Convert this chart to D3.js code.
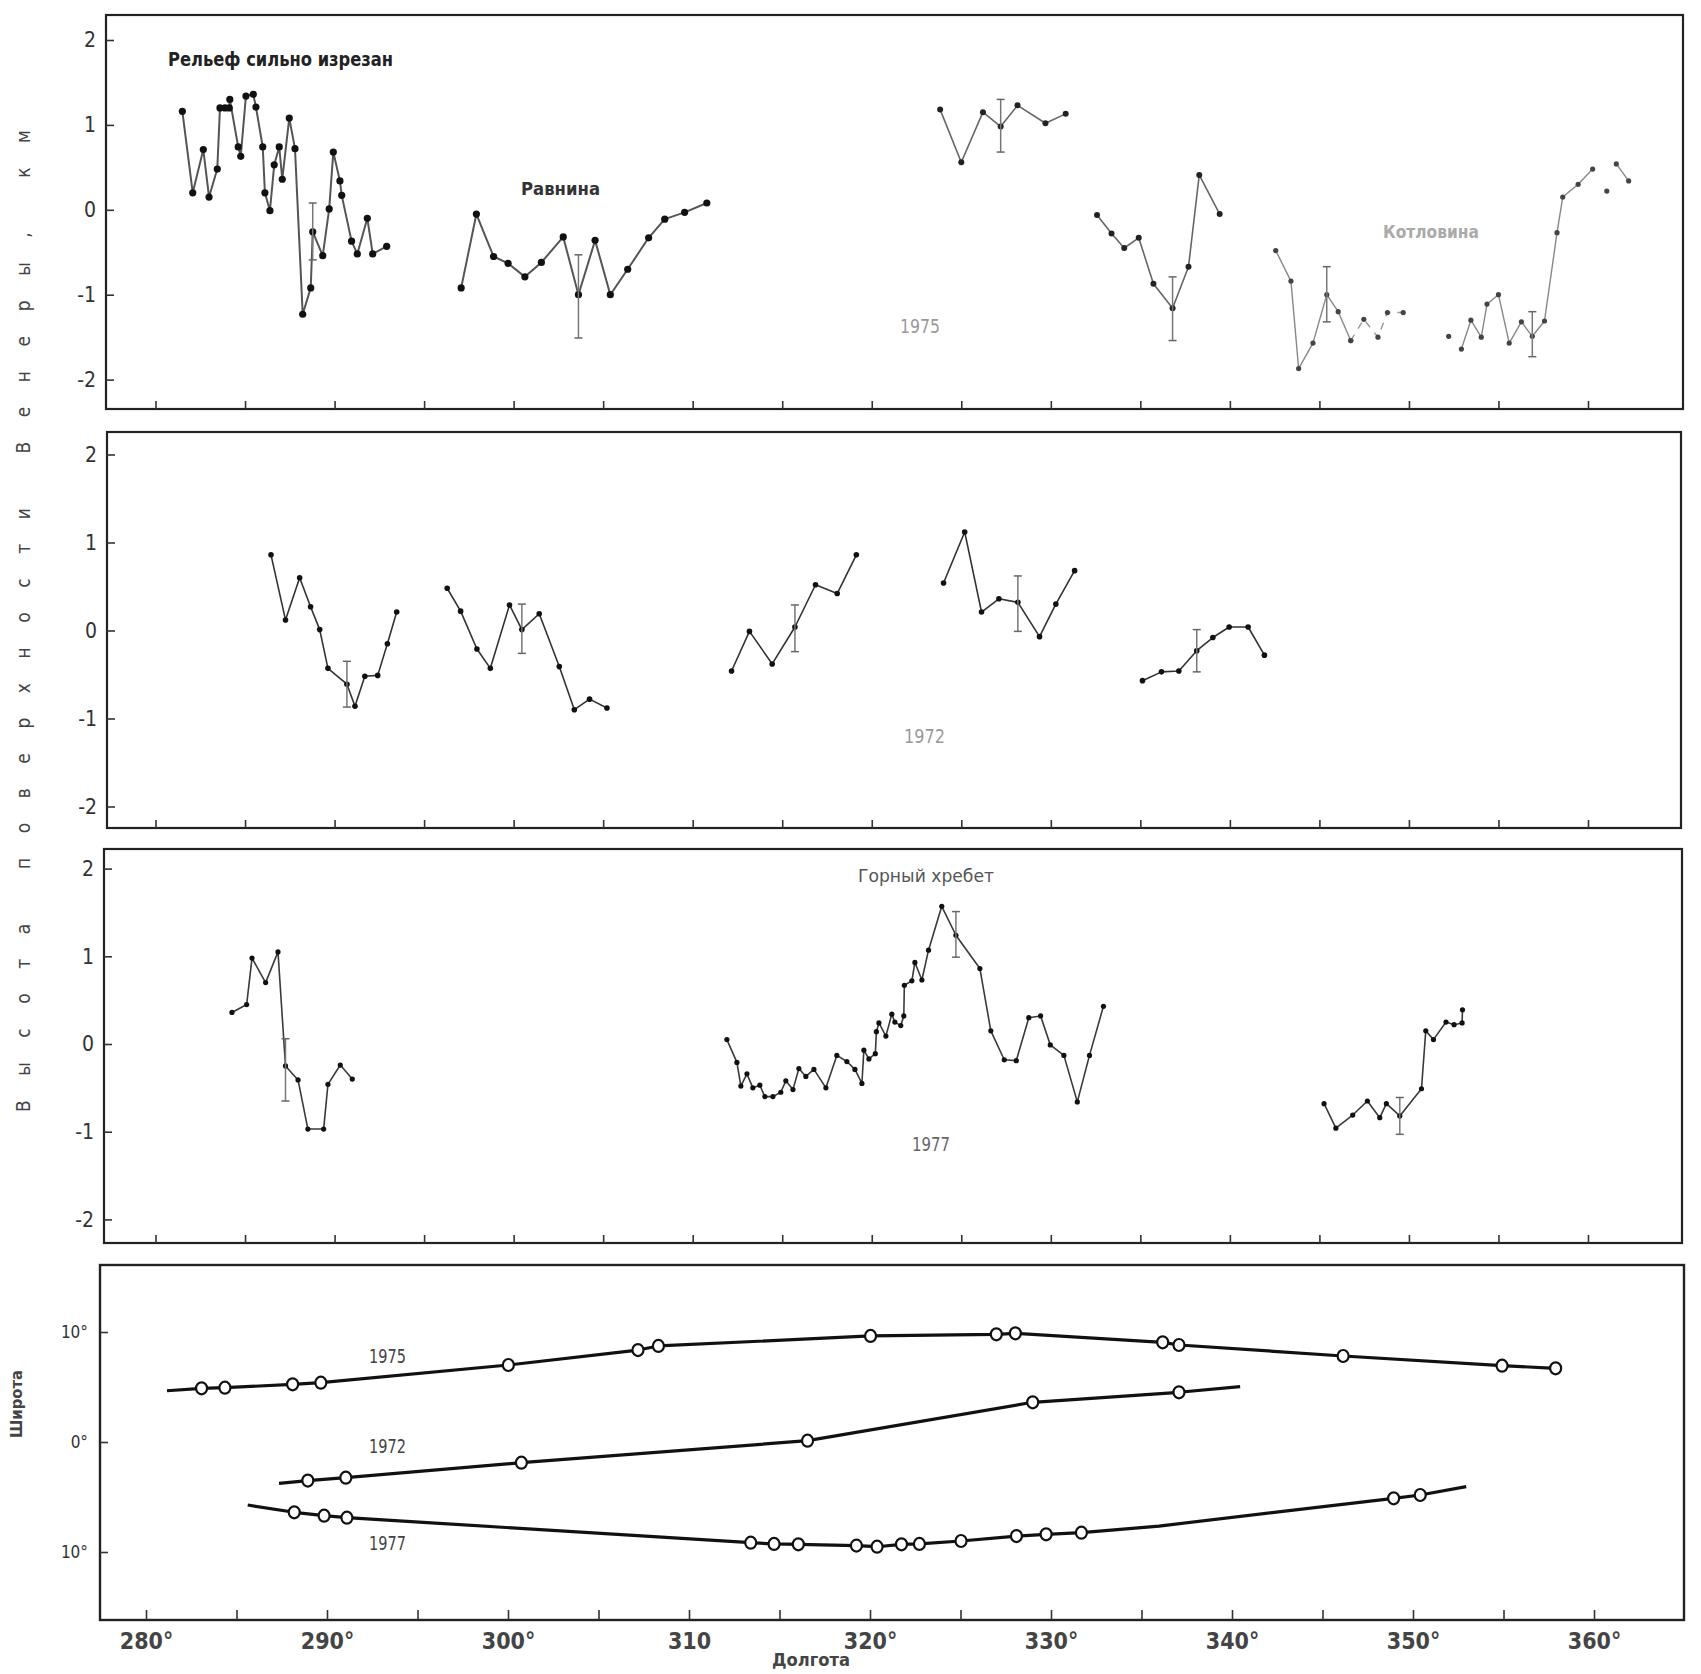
<!DOCTYPE html>
<html>
<head>
<meta charset="utf-8">
<script src="https://cdn.jsdelivr.net/npm/d3@7"></script>
<style>
  body { margin: 0; background: #fff; }
  svg { display: block; }
  text { font-family: "Liberation Sans Narrow", "DejaVu Sans Condensed", "Noto Sans", sans-serif; }
</style>
</head>
<body>
<div id="chart"></div>
<script>
// ------------------------------------------------ data ------------------------------------------------

const lonTicks = d3.range(280, 361, 5);
const lonLabels = ["280°", "290°", "300°", "310", "320°", "330°", "340°", "350°", "360°"];
const heightTicks = [2, 1, 0, -1, -2];
const latTicks = [10, 0, -10];
const latLabels = ["10°", "0°", "10°"];

// 1975 profile: segments of [longitude, height km]
const prof1975 = [
  [[281.50, 1.16], [282.08, 0.20], [282.67, 0.71], [282.99, 0.15], [283.45, 0.48], [283.60, 1.20], [283.88, 1.20],
   [284.12, 1.20], [284.15, 1.30], [284.62, 0.74], [284.76, 0.63], [285.05, 1.34], [285.46, 1.36], [285.61, 1.21],
   [285.99, 0.74], [286.11, 0.20], [286.39, -0.01], [286.63, 0.53], [286.91, 0.74], [287.08, 0.36], [287.47, 1.08],
   [287.79, 0.72], [288.22, -1.23], [288.67, -0.92], [288.78, -0.26], [289.34, -0.54], [289.70, 0.01], [289.93, 0.68],
   [290.30, 0.34], [290.40, 0.17], [290.95, -0.37], [291.27, -0.52], [291.83, -0.10], [292.13, -0.52], [292.91, -0.43]],
  [[297.07, -0.92], [297.92, -0.05], [298.88, -0.55], [299.69, -0.63], [300.63, -0.79], [301.55, -0.62], [302.77, -0.32],
   [303.62, -1.00], [304.55, -0.36], [305.40, -1.00], [306.37, -0.70], [307.54, -0.33], [308.44, -0.11], [309.55, -0.03],
   [310.79, 0.08]],
  [[323.82, 1.18], [325.00, 0.56], [326.21, 1.15], [327.20, 0.98], [328.14, 1.23], [329.70, 1.02], [330.83, 1.13]],
  [[332.58, -0.06], [333.39, -0.28], [334.10, -0.45], [334.91, -0.33], [335.73, -0.87], [336.80, -1.16], [337.69, -0.67],
   [338.29, 0.41], [339.43, -0.05]],
  [[342.56, -0.48], [343.41, -0.84], [343.84, -1.87], [344.64, -1.57], [345.41, -1.00], [346.05, -1.20], [346.75, -1.54]],
  [[346.75, -1.54], [347.48, -1.29], [348.27, -1.50], [348.80, -1.21], [349.68, -1.21]],
  [[352.22, -1.49]],
  [[352.93, -1.64], [353.46, -1.30], [354.04, -1.50], [354.36, -1.11], [355.00, -1.00], [355.60, -1.57], [356.28, -1.32],
   [356.89, -1.49], [357.57, -1.31], [358.27, -0.27], [358.59, 0.15], [359.45, 0.30], [360.26, 0.48]],
  [[361.05, 0.22]],
  [[361.58, 0.54], [362.27, 0.34]]
];
// error bars: [longitude, low, high]
const err1975 = [[288.78, -0.59, 0.08], [303.62, -1.51, -0.53], [327.20, 0.68, 1.30], [336.80, -1.54, -0.79],
  [345.41, -1.32, -0.67], [356.89, -1.73, -1.20]];

// 1972 profile
const prof1972 = [
  [[286.45, 0.86], [287.26, 0.12], [288.05, 0.60], [288.66, 0.27], [289.17, 0.01], [289.63, -0.43], [290.69, -0.61],
   [291.14, -0.86], [291.69, -0.52], [292.41, -0.51], [292.95, -0.15], [293.47, 0.21]],
  [[296.29, 0.48], [297.04, 0.22], [297.95, -0.21], [298.70, -0.43], [299.77, 0.29], [300.46, 0.01], [301.43, 0.19],
   [302.55, -0.41], [303.39, -0.90], [304.24, -0.78], [305.21, -0.88]],
  [[312.17, -0.46], [313.17, -0.01], [314.44, -0.38], [315.71, 0.04], [316.86, 0.52], [318.07, 0.42], [319.14, 0.86]],
  [[324.01, 0.54], [325.19, 1.12], [326.13, 0.21], [327.10, 0.36], [328.16, 0.32], [329.37, -0.07], [330.28, 0.30],
   [331.33, 0.68]],
  [[335.12, -0.57], [336.18, -0.47], [337.15, -0.46], [338.15, -0.23], [339.05, -0.08], [339.96, 0.04], [341.02, 0.04],
   [341.93, -0.28]]
];
const err1972 = [[290.69, -0.87, -0.35], [300.46, -0.26, 0.30], [315.71, -0.24, 0.29], [328.16, -0.01, 0.62],
  [338.15, -0.47, 0.01]];

// 1977 profile
const prof1977 = [
  [[284.27, 0.36], [285.09, 0.45], [285.39, 0.98], [286.15, 0.70], [286.84, 1.05], [287.26, -0.25], [287.96, -0.41],
   [288.51, -0.97], [289.39, -0.97], [289.63, -0.46], [290.32, -0.24], [290.99, -0.40]],
  [[311.91, 0.05], [312.47, -0.21], [312.69, -0.48], [313.03, -0.34], [313.36, -0.50], [313.75, -0.47], [314.03, -0.60],
   [314.48, -0.60], [314.92, -0.55], [315.20, -0.42], [315.60, -0.52], [315.93, -0.28], [316.32, -0.37], [316.77, -0.29],
   [317.44, -0.50], [318.05, -0.13], [318.61, -0.20], [319.06, -0.29], [319.45, -0.45], [319.56, -0.07], [319.84, -0.17],
   [320.20, -0.11], [320.26, 0.14], [320.40, 0.24], [320.79, 0.09], [321.12, 0.34], [321.29, 0.25], [321.62, 0.21],
   [321.79, 0.32], [321.82, 0.67], [322.24, 0.72], [322.41, 0.93], [322.80, 0.73], [323.17, 1.07], [323.91, 1.57],
   [324.70, 1.24], [326.04, 0.86], [326.65, 0.15], [327.40, -0.18], [328.07, -0.19], [328.77, 0.30], [329.43, 0.32],
   [329.97, -0.01], [330.73, -0.13], [331.48, -0.66], [332.16, -0.13], [332.94, 0.43]],
  [[345.26, -0.68], [345.92, -0.96], [346.86, -0.81], [347.68, -0.65], [348.37, -0.84], [348.74, -0.68], [349.49, -0.82],
   [350.70, -0.51], [350.94, 0.15], [351.37, 0.05], [352.07, 0.25], [352.52, 0.22], [352.97, 0.24], [352.99, 0.39]]
];
const err1977 = [[287.26, -0.65, 0.06], [324.70, 0.99, 1.51], [349.49, -1.03, -0.61]];

// ground tracks: [longitude, latitude, measured point 1/0]
const track1975 = [[281.16, 4.66, 0], [283.07, 4.88, 1], [284.36, 4.94, 1], [288.10, 5.24, 1], [289.66, 5.39, 1],
  [300.02, 7.00, 1], [307.18, 8.36, 1], [308.31, 8.73, 1], [320.03, 9.64, 1], [326.98, 9.79, 1], [328.03, 9.88, 1],
  [336.17, 9.06, 1], [337.07, 8.82, 1], [346.14, 7.82, 1], [354.92, 6.94, 1], [357.88, 6.70, 1]];
const track1972 = [[287.35, -3.76, 0], [288.94, -3.51, 1], [291.04, -3.24, 1], [300.74, -1.88, 1], [316.55, 0.12, 1],
  [328.99, 3.61, 1], [337.07, 4.52, 1], [340.45, 5.03, 0]];
const track1977 = [[285.62, -5.73, 0], [288.19, -6.39, 1], [289.84, -6.70, 1], [291.10, -6.88, 1], [313.41, -9.15, 1],
  [314.70, -9.27, 1], [316.04, -9.30, 1], [319.25, -9.42, 1], [320.39, -9.52, 1], [321.74, -9.30, 1], [322.73, -9.27, 1],
  [325.03, -9.00, 1], [328.09, -8.55, 1], [329.73, -8.39, 1], [331.68, -8.24, 1], [335.97, -7.64, 0], [348.93, -5.12, 1],
  [350.40, -4.82, 1], [352.94, -4.06, 0]];

// ------------------------------------------------ chart ------------------------------------------------

const W = 1701, H = 1674;

const svg = d3.select("#chart")
  .append("svg")
  .attr("width", W)
  .attr("height", H);

svg.append("rect").attr("width", W).attr("height", H).attr("fill", "#fff");

// scanned panels are not quite the same width, so the profiles and the track map get their own scale
const xTop = d3.scaleLinear().domain([280, 360]).range([155.5, 1588]);
const xBot = d3.scaleLinear().domain([280, 360]).range([146, 1594]);

const panels = [
  { top: 15, bottom: 409, left: 106, right: 1683, y: d3.scaleLinear().domain([2, -2]).range([40, 379.6]) },
  { top: 432, bottom: 828, left: 107, right: 1681, y: d3.scaleLinear().domain([2, -2]).range([454.5, 806.5]) },
  { top: 849, bottom: 1243, left: 104, right: 1682, y: d3.scaleLinear().domain([2, -2]).range([868.6, 1219.4]) }
];
const yLat = d3.scaleLinear().domain([10, -10]).range([1332, 1552]);

function styleAxis(g, size) {
  g.select(".domain").remove();
  g.selectAll(".tick line").attr("stroke", "#333").attr("stroke-width", 1.6);
  g.selectAll(".tick text")
    .attr("font-family", '"Liberation Sans Narrow", "DejaVu Sans Condensed", sans-serif')
    .attr("font-size", size)
    .attr("fill", "#333");
}

// frames and axes of the three profile panels
panels.forEach(p => {
  svg.append("rect")
    .attr("x", p.left).attr("y", p.top)
    .attr("width", p.right - p.left).attr("height", p.bottom - p.top)
    .attr("fill", "none").attr("stroke", "#222").attr("stroke-width", 2.2);

  // plain hyphen for negatives, as in the print
  const gy = svg.append("g")
    .attr("transform", "translate(" + p.left + ",0)")
    .call(d3.axisLeft(p.y).tickValues(heightTicks).tickSize(-8).tickPadding(10).tickFormat(d => String(d)));
  styleAxis(gy, 21);

  const gx = svg.append("g")
    .attr("transform", "translate(0," + p.bottom + ")")
    .call(d3.axisBottom(xTop).tickValues(lonTicks).tickSize(-8).tickFormat(""));
  styleAxis(gx, 10);
});

// draw one profile with its dots and error bars
function drawProfile(p, segs, errs, look) {
  const line = d3.line().x(d => xTop(d[0])).y(d => p.y(d[1]));
  const g = svg.append("g");

  segs.forEach((s, i) => {
    const st = look(i);
    if (s.length > 1) {
      g.append("path")
        .attr("d", line(s))
        .attr("fill", "none")
        .attr("stroke", st.line)
        .attr("stroke-width", st.w)
        .attr("stroke-dasharray", st.dash || null)
        .attr("stroke-linejoin", "round");
    }
    g.selectAll(null)
      .data(s)
      .join("circle")
      .attr("cx", d => xTop(d[0]))
      .attr("cy", d => p.y(d[1]))
      .attr("r", st.r)
      .attr("fill", st.dot);
  });

  errs.forEach(e => {
    const x = xTop(e[0]);
    g.append("line").attr("x1", x).attr("x2", x).attr("y1", p.y(e[1])).attr("y2", p.y(e[2]))
      .attr("stroke", "#777").attr("stroke-width", 1.5);
    [e[1], e[2]].forEach(v => {
      g.append("line").attr("x1", x - 4).attr("x2", x + 4).attr("y1", p.y(v)).attr("y2", p.y(v))
        .attr("stroke", "#666").attr("stroke-width", 1.5);
    });
  });
}

drawProfile(panels[0], prof1975, err1975, i => {
  if (i < 2) return { line: "#555", w: 2, r: 3.6, dot: "#111" };
  if (i < 4) return { line: "#666", w: 1.6, r: 3, dot: "#222" };
  if (i === 5) return { line: "#999", w: 1.4, r: 2.6, dot: "#444", dash: "7 7" };
  return { line: "#888", w: 1.4, r: 2.6, dot: "#444" };
});
drawProfile(panels[1], prof1972, err1972, () => ({ line: "#333", w: 1.6, r: 2.8, dot: "#111" }));
drawProfile(panels[2], prof1977, err1977, () => ({ line: "#3a3a3a", w: 1.6, r: 2.6, dot: "#111" }));

// --------------------------------------------- ground track panel ---------------------------------------------

const bot = { top: 1265, bottom: 1620, left: 100, right: 1684 };

svg.append("rect")
  .attr("x", bot.left).attr("y", bot.top)
  .attr("width", bot.right - bot.left).attr("height", bot.bottom - bot.top)
  .attr("fill", "none").attr("stroke", "#222").attr("stroke-width", 2.4);

const gLat = svg.append("g")
  .attr("transform", "translate(" + bot.left + ",0)")
  .call(d3.axisLeft(yLat).tickValues(latTicks).tickSize(-8).tickPadding(12)
    .tickFormat((d, i) => latLabels[i]));
styleAxis(gLat, 17);

const gLon = svg.append("g")
  .attr("transform", "translate(0," + bot.bottom + ")")
  .call(d3.axisBottom(xBot).tickValues(lonTicks).tickSize(-10).tickPadding(13)
    .tickFormat(d => d % 10 === 0 ? lonLabels[(d - 280) / 10] : ""));
styleAxis(gLon, 23);
gLon.selectAll(".tick text").attr("font-weight", "bold").attr("fill", "#444");

const trackLine = d3.line().x(d => xBot(d[0])).y(d => yLat(d[1]));
[track1975, track1972, track1977].forEach(t => {
  svg.append("path")
    .attr("d", trackLine(t))
    .attr("fill", "none")
    .attr("stroke", "#111")
    .attr("stroke-width", 3.2)
    .attr("stroke-linejoin", "round");
  svg.selectAll(null)
    .data(t.filter(d => d[2] === 1))
    .join("ellipse")
    .attr("cx", d => xBot(d[0]))
    .attr("cy", d => yLat(d[1]))
    .attr("rx", 5.5)
    .attr("ry", 6)
    .attr("fill", "#fff")
    .attr("stroke", "#111")
    .attr("stroke-width", 2.2);
});

// ------------------------------------------------ texts ------------------------------------------------

function label(txt, x, y, size, len, color, weight) {
  svg.append("text")
    .attr("x", x).attr("y", y)
    .attr("font-size", size)
    .attr("font-weight", weight || "normal")
    .attr("fill", color)
    .attr("textLength", len)
    .attr("lengthAdjust", "spacingAndGlyphs")
    .text(txt);
}

label("Рельеф сильно изрезан", 168, 66, 19, 225, "#222", "bold");
label("Равнина", 521, 195, 18, 79, "#333", "bold");
label("1975", 900, 333, 20, 40, "#999");
label("Котловина", 1383, 238, 17, 96, "#aaa", "bold");
label("1972", 904, 743, 20, 41, "#999");
label("Горный хребет", 858, 882, 18, 136, "#555");
label("1977", 912, 1151, 20, 38, "#666");

label("1975", 369, 1363, 19, 37, "#444");
label("1972", 369, 1453, 19, 37, "#444");
label("1977", 369, 1550, 19, 37, "#444");

label("Долгота", 772, 1666, 17, 78, "#444", "bold");

// vertical axis titles
svg.append("text")
  .attr("transform", "translate(22,1438) rotate(-90)")
  .attr("font-size", 16)
  .attr("font-weight", "bold")
  .attr("fill", "#444")
  .attr("textLength", 68)
  .attr("lengthAdjust", "spacingAndGlyphs")
  .text("Широта");

svg.append("text")
  .attr("transform", "translate(30,1112) rotate(-90)")
  .attr("font-size", 19)
  .attr("fill", "#444")
  .attr("textLength", 982)
  .attr("lengthAdjust", "spacing")
  .text("Высота поверхности Венеры, км");
</script>
</body>
</html>
